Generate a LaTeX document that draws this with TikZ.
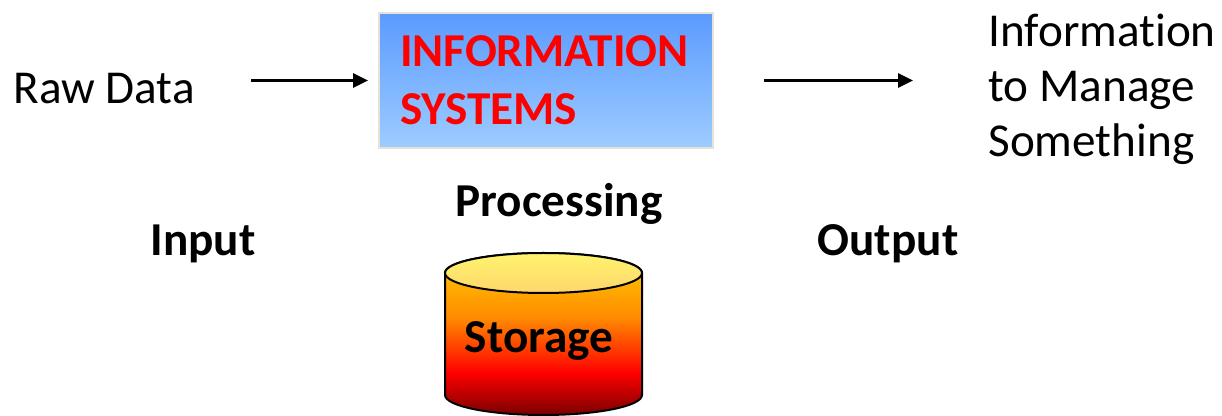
\documentclass[tikz,border=0pt]{standalone}
\usepackage{fontspec}
\setmainfont{Carlito}[Ligatures=NoCommon]
\usetikzlibrary{arrows.meta}

\definecolor{boxtop}{HTML}{5B9BFF}
\definecolor{boxbottom}{HTML}{9DCCFF}
\definecolor{boxedge}{HTML}{E6E2D6}
\definecolor{drumdark}{HTML}{7A0000}
\definecolor{drumred}{HTML}{FF0000}
\definecolor{drumorange}{HTML}{FF8A00}
\definecolor{drumyellow}{HTML}{FFD200}
\definecolor{lidtop}{HTML}{FFF46E}
\definecolor{lidbottom}{HTML}{FFD66C}

\pgfdeclareverticalshading{drumbody}{100bp}{color(0bp)=(drumdark); color(25bp)=(drumdark); color(38bp)=(drumred); color(55bp)=(drumorange); color(75bp)=(drumyellow); color(100bp)=(drumyellow)}

\begin{document}
\begin{tikzpicture}[x=0.5pt, y=-0.5pt,
    textlabel/.style={inner sep=0pt, font=\fontsize{23.6}{27.5}\selectfont},
    boldlabel/.style={inner sep=0pt, font=\fontsize{23.6}{27.5}\selectfont\bfseries},
    process/.style={rectangle, draw=boxedge, line width=1pt, top color=boxtop, bottom color=boxbottom, minimum width=167pt, minimum height=67.5pt, text width=146pt, inner xsep=10.5pt, align=left, text=red, font=\fontsize{23.6}{29}\selectfont\bfseries},
    arrow/.style={line width=1.4pt, -{Triangle[length=7.5pt, width=7pt]}}
    ]
    \useasboundingbox (0,0) rectangle (1222,416);

    % input and output texts
    \node (raw) [textlabel, anchor=base west] at (13,104) {Raw Data};
    \node (info) [textlabel, anchor=base west, align=left] at (988,157) {Information\\to Manage\\Something};

    % processing box
    \node (infosys) [process] at (546,80.5) {INFORMATION\\SYSTEMS};

    % stage labels
    \node (processing) [boldlabel, anchor=base] at (559,217) {Processing};
    \node (input) [boldlabel, anchor=base] at (203,256) {Input};
    \node (output) [boldlabel, anchor=base] at (888,256) {Output};

    % storage drum
    \path [draw=black, line width=1pt, shading=drumbody] (445,273) -- (445,395)
        arc[start angle=180, end angle=360, x radius=49.25pt, y radius=10pt] -- (642,273)
        arc[start angle=0, end angle=180, x radius=49.25pt, y radius=10pt] -- cycle;
    \path [draw=black, line width=1pt, top color=lidtop, bottom color=lidbottom] (543.5,273) ellipse[x radius=49.25pt, y radius=10pt];
    \node (storage) [boldlabel, anchor=base] at (539,353) {Storage};

    % arrows
    \draw [arrow] ([xshift=28pt]raw.east |- infosys.west) -- ([xshift=-5pt]infosys.west);
    \draw [arrow] ([xshift=25pt]infosys.east) -- ([xshift=-37.5pt]info.west |- infosys.east);
\end{tikzpicture}
\end{document}
